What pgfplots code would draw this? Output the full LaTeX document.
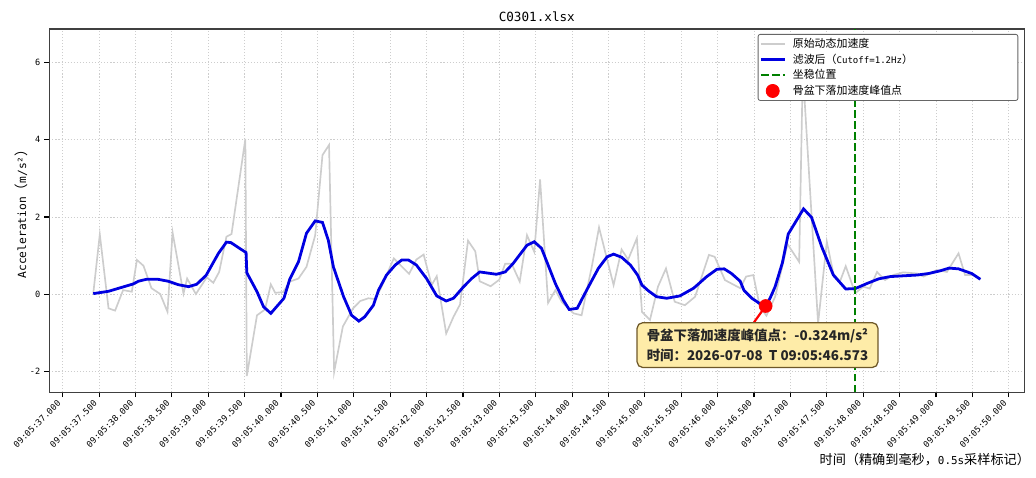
\documentclass[border=0pt]{standalone}
\usepackage{fontspec}
\setmainfont{DejaVu Sans Mono}[Scale=0.83]
\newfontfamily\cjk{Noto Sans CJK SC}
\usepackage{pgfplots}
\usepackage{pgfplotstable}
\pgfplotsset{compat=1.18}
\definecolor{rawgray}{RGB}{205,205,205}
\definecolor{filtblue}{RGB}{0,0,225}
\definecolor{mplgreen}{RGB}{0,128,0}
\definecolor{boxfill}{RGB}{254,236,168}
\definecolor{boxedge}{RGB}{110,88,40}
\definecolor{gridc}{RGB}{205,205,205}
\newcommand\legtxt[1]{\makebox[163bp][l]{\hspace*{3.5bp}#1}}
\begin{document}
\pgfplotstableread{
x y
0.42 0.02
0.51 1.55
0.63 -0.36
0.72 -0.42
0.83 0.11
0.95 0.07
1.02 0.89
1.11 0.74
1.22 0.16
1.34 0.01
1.44 -0.45
1.51 1.60
1.66 0.02
1.71 0.41
1.83 0.01
1.98 0.44
2.07 0.30
2.15 0.58
2.25 1.49
2.32 1.56
2.51 4.02
2.53 -2.11
2.67 -0.54
2.78 -0.39
2.86 0.26
2.92 0.04
3.03 0.06
3.12 0.33
3.24 0.41
3.35 0.71
3.47 1.53
3.57 3.60
3.66 3.86
3.73 -2.00
3.85 -0.83
3.99 -0.36
4.09 -0.17
4.20 -0.10
4.29 -0.12
4.37 0.15
4.55 0.93
4.76 0.53
4.86 0.90
4.96 1.03
5.07 0.24
5.14 0.47
5.27 -1.01
5.37 -0.58
5.46 -0.26
5.57 1.39
5.67 1.11
5.73 0.34
5.88 0.21
6.00 0.38
6.08 0.79
6.17 0.79
6.28 0.33
6.38 1.53
6.48 1.10
6.56 2.97
6.67 -0.22
6.77 0.11
6.86 -0.20
7.02 -0.49
7.13 -0.54
7.27 0.71
7.37 1.73
7.57 0.24
7.68 1.16
7.77 0.90
7.89 1.45
7.96 -0.45
8.07 -0.66
8.18 0.20
8.29 0.67
8.41 -0.19
8.55 -0.28
8.69 -0.06
8.88 1.02
8.96 0.97
9.10 0.37
9.31 0.16
9.39 0.46
9.49 0.50
9.58 -0.32
9.67 -0.55
9.79 -0.06
9.96 1.30
10.12 0.84
10.17 5.80
10.38 -0.75
10.50 1.36
10.59 0.54
10.68 0.33
10.76 0.73
10.89 0.03
11.00 0.20
11.09 0.15
11.19 0.58
11.30 0.37
11.41 0.50
11.55 0.57
11.74 0.54
11.83 0.46
12.01 0.63
12.15 0.58
12.31 1.06
12.40 0.50
12.51 0.50
12.61 0.39
}\rawdata
\pgfplotstableread{
x y
0.42 0.02
0.63 0.08
0.79 0.17
0.97 0.27
1.04 0.34
1.15 0.39
1.31 0.39
1.45 0.34
1.59 0.25
1.73 0.20
1.84 0.26
1.97 0.49
2.14 1.06
2.25 1.35
2.31 1.34
2.52 1.08
2.53 0.56
2.67 0.07
2.76 -0.32
2.86 -0.49
3.04 -0.10
3.12 0.39
3.24 0.84
3.35 1.58
3.47 1.90
3.57 1.86
3.65 1.40
3.72 0.71
3.86 -0.06
3.97 -0.54
4.07 -0.69
4.15 -0.58
4.27 -0.28
4.34 0.11
4.45 0.50
4.57 0.76
4.66 0.89
4.75 0.89
4.86 0.76
5.00 0.41
5.14 -0.04
5.27 -0.17
5.37 -0.10
5.51 0.20
5.62 0.41
5.73 0.58
5.96 0.52
6.08 0.58
6.19 0.80
6.38 1.27
6.48 1.36
6.58 1.19
6.67 0.76
6.77 0.28
6.88 -0.15
6.96 -0.39
7.07 -0.36
7.20 0.11
7.36 0.67
7.48 0.97
7.57 1.04
7.68 0.96
7.80 0.76
7.90 0.50
7.96 0.24
8.05 0.09
8.16 -0.06
8.30 -0.10
8.48 -0.04
8.67 0.16
8.85 0.46
8.99 0.65
9.09 0.66
9.19 0.54
9.31 0.34
9.36 0.11
9.47 -0.10
9.58 -0.24
9.66 -0.30
9.72 -0.10
9.79 0.20
9.89 0.82
9.97 1.56
10.18 2.21
10.29 1.99
10.43 1.23
10.59 0.50
10.76 0.14
10.89 0.15
11.05 0.28
11.21 0.40
11.37 0.46
11.55 0.48
11.74 0.50
11.90 0.54
12.06 0.61
12.18 0.68
12.31 0.66
12.49 0.54
12.61 0.39
}\filtdata
\begin{tikzpicture}
\path[use as bounding box, x=0.72bp, y=0.72bp] (-49.3,-85.7) rectangle (986.7,392.3);
\begin{axis}[
  at={(0,0)}, anchor=south west,
  scale only axis, width=702bp, height=261.6bp,
  xmin=-0.184, xmax=13.214, ymin=-2.53, ymax=6.86,
  axis line style={black!75, line width=1bp},
  tick style={black, line width=0.8bp},
  major tick length=3.5bp, tick align=outside,
  xtick pos=bottom, ytick pos=left,
  grid=major,
  major grid style={gridc, line width=0.6bp, dash pattern=on 0.8bp off 1.4bp},
  xtick={0,0.5,1,1.5,2,2.5,3,3.5,4,4.5,5,5.5,6,6.5,7,7.5,8,8.5,9,9.5,10,10.5,11,11.5,12,12.5,13},
  xticklabels={09:05:37.000,09:05:37.500,09:05:38.000,09:05:38.500,09:05:39.000,09:05:39.500,09:05:40.000,09:05:40.500,09:05:41.000,09:05:41.500,09:05:42.000,09:05:42.500,09:05:43.000,09:05:43.500,09:05:44.000,09:05:44.500,09:05:45.000,09:05:45.500,09:05:46.000,09:05:46.500,09:05:47.000,09:05:47.500,09:05:48.000,09:05:48.500,09:05:49.000,09:05:49.500,09:05:50.000},
  x tick label style={font=\fontsize{7.5}{8}\selectfont, xshift=-4.3bp, rotate=45, anchor=north east, inner sep=1bp},
  ytick={-2,0,2,4,6},
  yticklabels={-2,0,2,4,6},
  y tick label style={font=\fontsize{7.5}{8}\selectfont},
  xlabel={{\cjk 时间（精确到毫秒，}0.5s{\cjk 采样标记）}},
  xlabel style={font=\fontsize{9.5}{10}\selectfont, at={(axis description cs:1.010,-0.186)}, anchor=east},
  ylabel={Acceleration{\cjk （}m/s²{\cjk ）}},
  ylabel style={font=\fontsize{9.8}{10}\selectfont, at={(axis description cs:-0.029,0.5)}, anchor=center},
  legend cell align=left,
  legend style={at={(axis description cs:0.9938,0.9862)}, anchor=north east,
    draw=black!60, line width=0.6bp, rounded corners=1.5bp,
    fill=white, 
    font=\fontsize{7.9}{9}\selectfont, inner xsep=1bp, inner ysep=1.2bp, row sep=0bp,
    nodes={inner xsep=1.5bp, inner ysep=1.2bp, text height=7bp, text depth=1.9bp}},
]
\addplot[rawgray, line width=1.2bp] table[x=x, y=y] {\rawdata};
\addlegendentry{\legtxt{\cjk 原始动态加速度}}
\addplot[filtblue, line width=2bp] table[x=x, y=y] {\filtdata};
\addlegendentry{\legtxt{{\cjk 滤波后（}Cutoff=1.2Hz{\cjk ）}}}
\addplot[mplgreen, line width=1.5bp, dash pattern=on 5.5bp off 2.4bp] coordinates {(10.89,-2.53) (10.89,6.86)};
\addlegendentry{\legtxt{\cjk 坐稳位置}}
\addplot[only marks, mark=*, mark size=4.7bp, mark options={draw=red, fill=red}] coordinates {(9.66,-0.30)};
\addlegendentry{\legtxt{\cjk 骨盆下落加速度峰值点}}
\draw[red, line width=1.6bp] (axis cs:9.50,-0.72) -- (axis cs:9.66,-0.30);
\node[draw=boxedge, fill=boxfill, rounded corners=4bp, line width=0.9bp, inner xsep=7bp, inner ysep=4bp, align=left, text=black!85, font=\cjk\bfseries\fontsize{9.7}{14.8}\selectfont] at (axis cs:9.548,-1.31) {骨盆下落加速度峰值点：-0.324m/s²\\时间：2026-07-08\ \ T 09:05:46.573};
\end{axis}
\node[anchor=base, yshift=5bp, inner sep=0pt, font=\fontsize{11}{13}\selectfont] at (current axis.north) {C0301.xlsx};
\end{tikzpicture}
\end{document}
